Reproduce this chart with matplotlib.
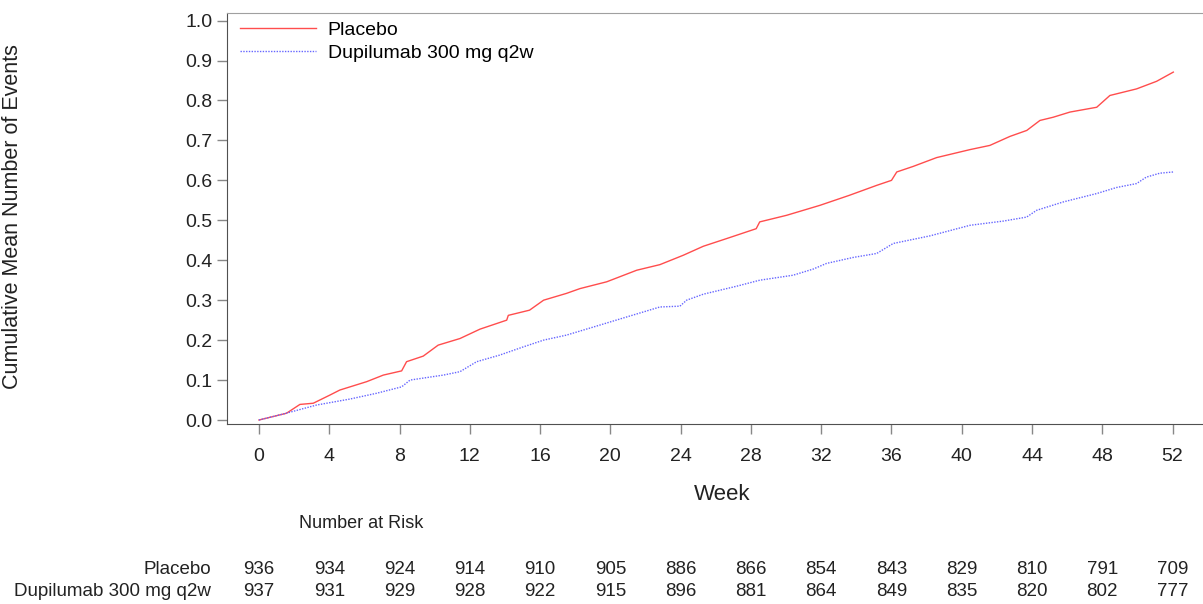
import matplotlib
matplotlib.use('Agg')
import matplotlib.pyplot as plt
import matplotlib.transforms as mtransforms

plt.rcParams['font.family'] = ['Liberation Sans', 'DejaVu Sans']

# cumulative mean number of events
placebo_week = [0, 1.57, 2.33, 3.09, 4.04, 4.6, 6.13, 7.08, 8.12, 8.4, 9.35, 10.2,
                11.44, 12.58, 14.1, 14.19, 15.4, 16.2, 17.5, 18.27, 19.79, 21.5,
                22.82, 24.15, 25.29, 26.6, 28.3, 28.5, 30.03, 31.93, 33.6, 35.16,
                36.0, 36.3, 37.24, 38.57, 40.47, 41.6, 42.74, 43.7, 44.45, 45.2,
                46.16, 47.68, 48.43, 49.95, 51.09, 52.04]
placebo_mean = [0, 0.017, 0.039, 0.042, 0.0625, 0.075, 0.096, 0.1125, 0.123, 0.146,
                0.16, 0.1875, 0.204, 0.2275, 0.25, 0.262, 0.275, 0.30, 0.317, 0.329,
                0.346, 0.375, 0.389, 0.4125, 0.435, 0.454, 0.479, 0.496, 0.5125,
                0.5375, 0.5625, 0.5875, 0.60, 0.621, 0.635, 0.657, 0.677, 0.6875,
                0.71, 0.725, 0.75, 0.758, 0.771, 0.783, 0.8125, 0.829, 0.848, 0.871]

dupi_week = [0, 1.38, 3.28, 5.18, 6.7, 8.12, 8.6, 10.5, 11.44, 12.39, 13.7, 15.04,
             16.2, 17.5, 19.2, 20.93, 22.82, 23.96, 24.34, 25.29, 27.19, 28.5, 30.4,
             31.55, 32.3, 33.82, 35.16, 36.1, 38.19, 40.47, 42.36, 43.69, 44.26,
             45.78, 47.68, 48.8, 49.95, 50.5, 51.28, 52.04]
dupi_mean = [0, 0.015, 0.0375, 0.0525, 0.067, 0.083, 0.10, 0.1125, 0.121, 0.146,
             0.1625, 0.183, 0.2, 0.2125, 0.235, 0.258, 0.283, 0.285, 0.30, 0.315,
             0.335, 0.35, 0.3625, 0.378, 0.392, 0.407, 0.417, 0.442, 0.461, 0.4875,
             0.498, 0.508, 0.525, 0.546, 0.567, 0.582, 0.592, 0.608, 0.618, 0.621]

risk_weeks = list(range(0, 53, 4))
risk_placebo = [936, 934, 924, 914, 910, 905, 886, 866, 854, 843, 829, 810, 791, 709]
risk_dupi = [937, 931, 929, 928, 922, 915, 896, 881, 864, 849, 835, 820, 802, 777]
labels = ['Placebo', 'Dupilumab 300 mg q2w']

W, H = 1203, 604
fig = plt.figure(figsize=(W / 100, H / 100), dpi=100)
ax = fig.add_axes([227 / W, 1 - 424 / H, (W - 227) / W, (424 - 13) / H])

ax.plot(placebo_week, placebo_mean, color='#ff4d4d', lw=1.0, label=labels[0])
ax.plot(dupi_week, dupi_mean, color='#6666ff', lw=1.0, ls=(0, (1, 1)),
        label=labels[1])

ax.set_xlim(-1.82, 53.73)
ax.set_ylim(-0.010, 1.019)
ax.set_xticks(risk_weeks)
ax.set_yticks([i / 10 for i in range(11)])
ax.set_yticklabels(['%.1f' % (i / 10) for i in range(11)])

ax.spines['right'].set_visible(False)
ax.spines['top'].set_color('#a0a0a0')
ax.spines['left'].set_color('#505050')
ax.spines['bottom'].set_color('#505050')
ax.tick_params(axis='x', length=7.5, width=1, color='#888888', pad=10,
               labelsize=14, labelcolor='#222222')
ax.tick_params(axis='y', length=7, width=1, color='#888888', pad=3.5,
               labelsize=14, labelcolor='#222222')

ax.set_ylabel('Cumulative Mean Number of Events', fontsize=15.5, color='#222222')
ax.yaxis.set_label_coords(23 / W, 1 - 217 / H, transform=fig.transFigure)
fig.text(722 / W, 1 - 495 / H, 'Week', fontsize=16, color='#222222',
         ha='center', va='center')

ax.legend(loc='upper left', bbox_to_anchor=(240 / W, 1 - 21 / H),
          bbox_transform=fig.transFigure, frameon=False, fontsize=14,
          handlelength=3.9, handletextpad=0.6, labelspacing=0.3,
          borderpad=0, borderaxespad=0)

# number at risk table
tr = mtransforms.blended_transform_factory(ax.transData, fig.transFigure)
fig.text(299 / W, 1 - 524 / H, 'Number at Risk', fontsize=13, color='#222222',
         ha='left', va='center')
for row_y, name, counts in [(569, labels[0], risk_placebo),
                            (592, labels[1], risk_dupi)]:
    fig.text(211 / W, 1 - row_y / H, name, fontsize=13.5, color='#222222',
             ha='right', va='center')
    for wk, n in zip(risk_weeks, counts):
        ax.text(wk, 1 - row_y / H, str(n), transform=tr, fontsize=13.5,
                color='#222222', ha='center', va='center')

fig.savefig('out.png', dpi=100)
